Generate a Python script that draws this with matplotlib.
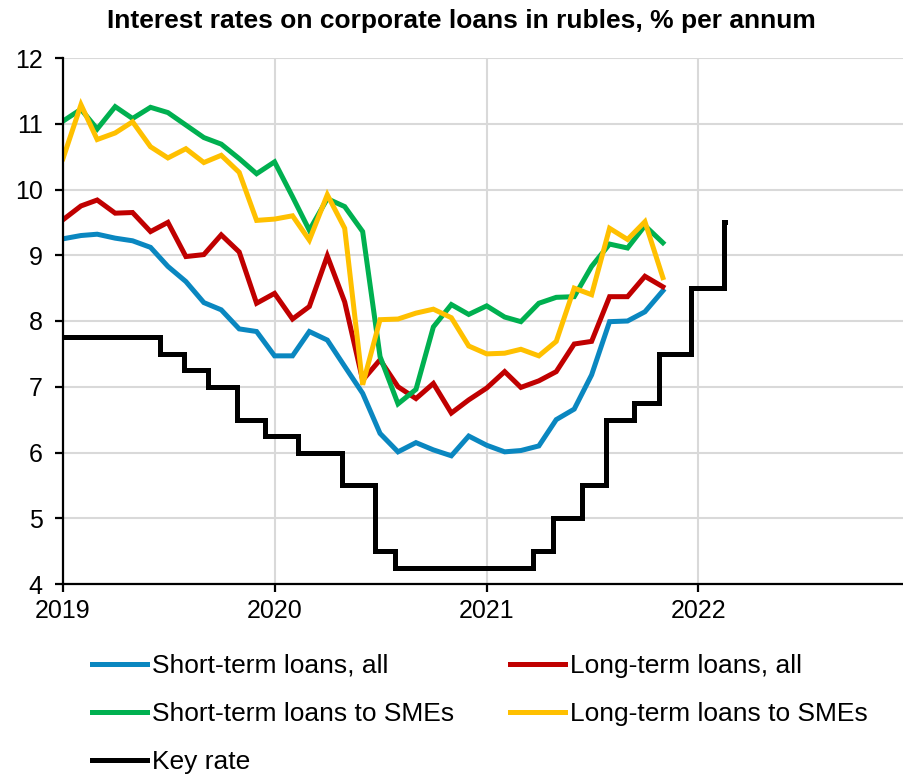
import matplotlib
matplotlib.use("Agg")
import matplotlib.pyplot as plt
import matplotlib.dates as mdates
import pandas as pd

plt.rcParams['font.family'] = ['Liberation Sans', 'DejaVu Sans']

# Monthly rates, Jan 2019 - Nov 2021, % per annum
months = pd.date_range('2019-01-01', periods=35, freq='MS')

short_all = [9.25, 9.30, 9.32, 9.26, 9.22, 9.12, 8.83, 8.60, 8.28, 8.17, 7.88, 7.84,
             7.47, 7.47, 7.84, 7.71, 7.31, 6.90, 6.29, 6.01, 6.15, 6.04, 5.95, 6.25,
             6.11, 6.01, 6.03, 6.10, 6.50, 6.66, 7.18, 7.99, 8.00, 8.14, 8.46]

long_all = [9.54, 9.75, 9.84, 9.64, 9.65, 9.36, 9.50, 8.98, 9.01, 9.31, 9.05, 8.27,
            8.42, 8.03, 8.22, 8.99, 8.29, 7.10, 7.41, 7.00, 6.82, 7.05, 6.60, 6.80,
            6.98, 7.23, 6.99, 7.09, 7.23, 7.65, 7.69, 8.37, 8.37, 8.68, 8.52]

short_sme = [11.04, 11.22, 10.92, 11.26, 11.08, 11.25, 11.17, 10.98, 10.79, 10.69, 10.47, 10.24,
             10.42, 9.89, 9.38, 9.86, 9.74, 9.36, 7.46, 6.74, 6.96, 7.91, 8.25, 8.10,
             8.23, 8.06, 7.99, 8.27, 8.36, 8.37, 8.83, 9.17, 9.11, 9.45, 9.19]

long_sme = [10.47, 11.29, 10.76, 10.86, 11.03, 10.65, 10.48, 10.62, 10.41, 10.52, 10.26, 9.53,
            9.55, 9.60, 9.23, 9.92, 9.41, 7.03, 8.02, 8.03, 8.12, 8.18, 8.05, 7.62,
            7.50, 7.51, 7.57, 7.47, 7.69, 8.50, 8.40, 9.41, 9.24, 9.51, 8.66]

# Key rate decisions (effective dates) and levels
key_dates = ['2019-01-01', '2019-06-17', '2019-07-29', '2019-09-09', '2019-10-28',
             '2019-12-16', '2020-02-10', '2020-04-27', '2020-06-22', '2020-07-27',
             '2021-03-22', '2021-04-26', '2021-06-15', '2021-07-26', '2021-09-13',
             '2021-10-25', '2021-12-20', '2022-02-14', '2022-02-16']
key_rate = [7.75, 7.50, 7.25, 7.00, 6.50, 6.25, 6.00, 5.50, 4.50, 4.25,
            4.50, 5.00, 5.50, 6.50, 6.75, 7.50, 8.50, 9.50, 9.50]

year_ticks = ['2019', '2020', '2021', '2022']
y_ticks = [4, 5, 6, 7, 8, 9, 10, 11, 12]

W, H = 904, 775
fig = plt.figure(figsize=(W / 100, H / 100), dpi=100)
ax = fig.add_axes([63 / W, 1 - 584 / H, (W - 63) / W, (584 - 58) / H])

lw = 3.6
l_short, = ax.plot(months, short_all, color='#0A87C0', lw=lw, solid_joinstyle='miter',
                   label='Short-term loans, all')
l_long, = ax.plot(months, long_all, color='#C00000', lw=lw, solid_joinstyle='miter',
                  label='Long-term loans, all')
l_ssme, = ax.plot(months, short_sme, color='#00B050', lw=lw, solid_joinstyle='miter',
                  label='Short-term loans to SMEs')
l_lsme, = ax.plot(months, long_sme, color='#FFC000', lw=lw, solid_joinstyle='miter',
                  label='Long-term loans to SMEs')
l_key, = ax.plot(pd.to_datetime(key_dates), key_rate, color='black', lw=lw,
                 drawstyle='steps-post', solid_joinstyle='miter', label='Key rate')

x0 = mdates.date2num(pd.Timestamp('2019-01-01'))
ax.set_xlim(x0, x0 + (W - 63) / 211.7 * 365.25)
ax.set_ylim(4, 12)
ax.set_xticks([mdates.date2num(pd.Timestamp(y + '-01-01')) for y in year_ticks])
ax.set_xticklabels(year_ticks)
ax.set_yticks(y_ticks)
ax.set_yticklabels([str(v) for v in y_ticks])

ax.grid(True, color='#D9D9D9', lw=1.5)
ax.set_axisbelow(True)
for s in ('top', 'right'):
    ax.spines[s].set_visible(False)
for s in ('left', 'bottom'):
    ax.spines[s].set_linewidth(1.6)
    ax.spines[s].set_color('black')
ax.tick_params(axis='both', direction='out', length=5.5, width=1.6, labelsize=18,
               colors='black')
ax.tick_params(axis='x', pad=5.5)
ax.tick_params(axis='y', pad=9)

fig.text(107 / W, 1 - 28 / H, 'Interest rates on corporate loans in rubles, % per annum',
         ha='left', va='baseline', fontsize=19, fontweight='bold')

fig.legend(handles=[l_short, l_ssme, l_key, l_long, l_lsme], ncol=2,
           loc='upper left', bbox_to_anchor=(92 / W, 1 - 654 / H), frameon=False,
           fontsize=19, handlelength=2.08, handletextpad=0.19, columnspacing=2.12,
           labelspacing=0.91, borderaxespad=0, borderpad=0)

fig.savefig('out.png', dpi=100)
